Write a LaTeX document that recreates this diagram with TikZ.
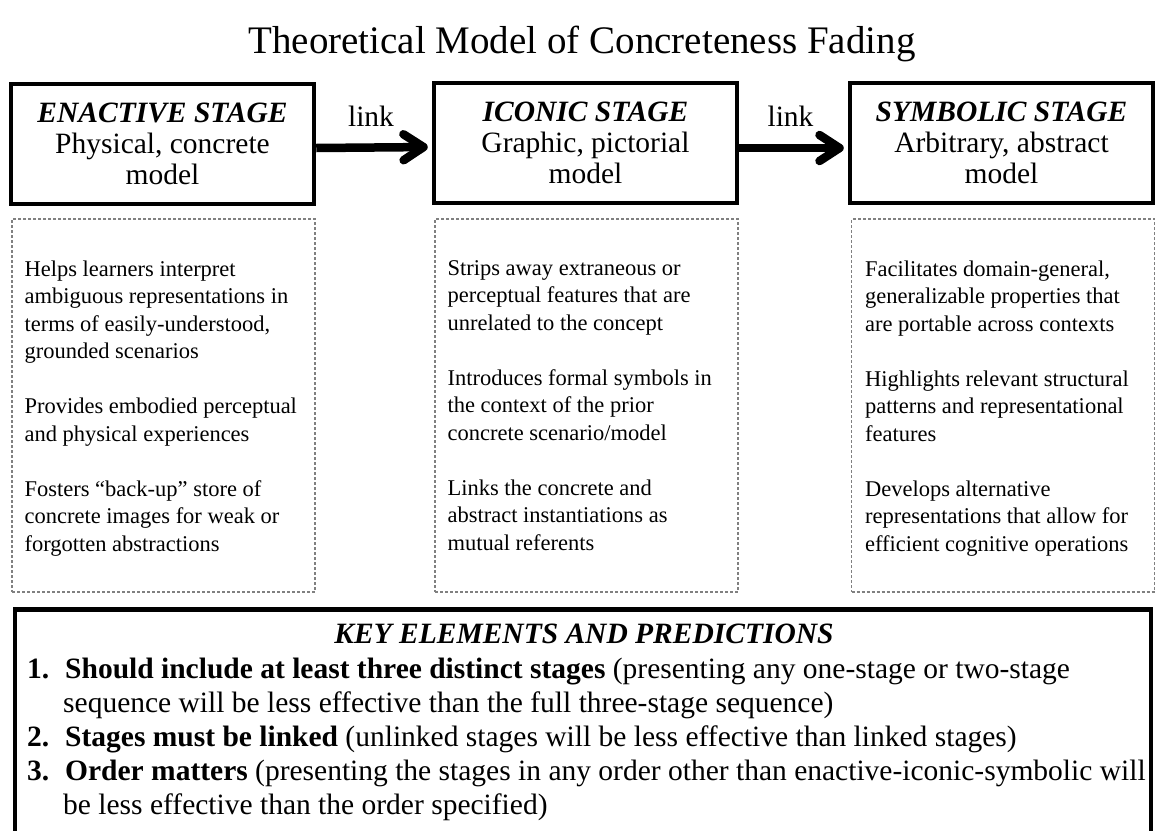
\documentclass[tikz,border=0pt]{standalone}
\usepackage{fontspec}
\setmainfont{Liberation Serif}
\usetikzlibrary{arrows.meta}
\begin{document}
\begin{tikzpicture}[x=1pt,y=-1pt,
  titletext/.style={inner sep=0pt, font=\fontsize{39}{44}\selectfont},
  stagebox/.style={draw=black, line width=4.5pt, minimum width=303pt, minimum height=120pt,
    inner sep=0pt, align=center, font=\fontsize{29.5}{31}\selectfont},
  linkarrow/.style={line width=8.5pt, -{Straight Barb[length=20pt,width=26pt,round]}, shorten >=4pt},
  linklbl/.style={above=17pt, inner sep=0pt, font=\fontsize{29.5}{30}\selectfont},
  notebox/.style={draw=black!50, line width=1.3pt, dash pattern=on 3pt off 2pt,
    minimum width=303pt, minimum height=373pt, inner sep=0pt},
  notetext/.style={align=left, inner sep=0pt, font=\fontsize{22.5}{27.5}\selectfont},
  keybox/.style={draw=black, line width=4.5pt, minimum width=1136pt, minimum height=260pt, inner sep=0pt},
  keytext/.style={inner sep=0pt, font=\fontsize{29.5}{34}\selectfont}
]
\fill[white] (0,0) rectangle (1155,830);
\clip (0,0) rectangle (1155,830);

\node[titletext, anchor=base] (title) at (582,53) {Theoretical Model of Concreteness Fading};

\node[stagebox] (en) at (162.5,144) {\textbf{\textit{ENACTIVE STAGE}}\\Physical, concrete\\model};
\node[stagebox] (ic) at (585.5,143) {\textbf{\textit{ICONIC STAGE}}\\Graphic, pictorial\\model};
\node[stagebox] (sy) at (1001.5,143) {\textbf{\textit{SYMBOLIC STAGE}}\\Arbitrary, abstract\\model};

\draw[linkarrow] ([yshift=-4pt]en.east) -- node[linklbl, xshift=-3pt]{link} ([yshift=-4pt]ic.west);
\draw[linkarrow] ([yshift=-5pt]ic.east) -- node[linklbl, xshift=-3pt]{link} ([yshift=-5pt]sy.west);

\node[notebox] (enD) at (163.5,405.5) {};
\node[notebox] (icD) at (586.5,405.5) {};
\node[notebox] (syD) at (1003,405.5) {};

\node[notetext, anchor=north west] (enT) at ([xshift=13pt,yshift=-42pt]enD.north west)
  {Helps learners interpret\\ambiguous representations in\\terms of easily-understood,\\grounded scenarios\\[27.5pt]
   Provides embodied perceptual\\and physical experiences\\[27.5pt]
   Fosters “back-up” store of\\concrete images for weak or\\forgotten abstractions};
\node[notetext, anchor=north west] (icT) at ([xshift=13pt,yshift=-42pt]icD.north west)
  {Strips away extraneous or\\perceptual features that are\\unrelated to the concept\\[27.5pt]
   Introduces formal symbols in\\the context of the prior\\concrete scenario/model\\[27.5pt]
   Links the concrete and\\abstract instantiations as\\mutual referents};
\node[notetext, anchor=north west] (syT) at ([xshift=14pt,yshift=-42pt]syD.north west)
  {Facilitates domain-general,\\generalizable properties that\\are portable across contexts\\[27.5pt]
   Highlights relevant structural\\patterns and representational\\features\\[27.5pt]
   Develops alternative\\representations that allow for\\efficient cognitive operations};

\node[keybox, anchor=north west] (key) at (12.5,607) {};
\node[keytext, anchor=base] (kt) at (584,643) {\textbf{\textit{KEY ELEMENTS AND PREDICTIONS}}};
\node[keytext, anchor=base west] (i1a) at (27,678)
  {\makebox[38pt][l]{\textbf{1.}}\textbf{Should include at least three distinct stages} (presenting any one-stage or two-stage};
\node[keytext, anchor=base west] (i1b) at (63,712)
  {sequence will be less effective than the full three-stage sequence)};
\node[keytext, anchor=base west] (i2) at (27,746)
  {\makebox[38pt][l]{\textbf{2.}}\textbf{Stages must be linked} (unlinked stages will be less effective than linked stages)};
\node[keytext, anchor=base west] (i3a) at (27,780)
  {\makebox[38pt][l]{\textbf{3.}}\textbf{Order matters} (presenting the stages in any order other than enactive-iconic-symbolic will};
\node[keytext, anchor=base west] (i3b) at (63,814)
  {be less effective than the order specified)};
\end{tikzpicture}
\end{document}
